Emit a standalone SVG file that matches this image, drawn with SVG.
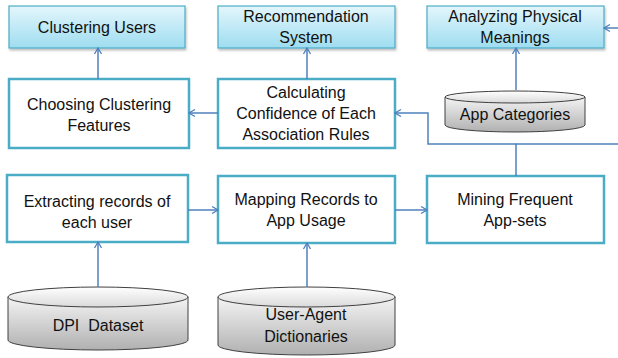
<svg xmlns="http://www.w3.org/2000/svg" width="618" height="358" viewBox="0 0 618 358">
<defs>
<linearGradient id="cyan" x1="0" y1="0" x2="0" y2="1">
<stop offset="0" stop-color="#E4F6FC"/>
<stop offset="1" stop-color="#9EDDF0"/>
</linearGradient>
<linearGradient id="gray" x1="0" y1="0" x2="0" y2="1">
<stop offset="0" stop-color="#F4F4F4"/>
<stop offset="1" stop-color="#B0B0B0"/>
</linearGradient>
<linearGradient id="grayTop" x1="0" y1="0" x2="0" y2="1">
<stop offset="0" stop-color="#FFFFFF"/>
<stop offset="1" stop-color="#DADADA"/>
</linearGradient>
<marker id="arr" markerWidth="10" markerHeight="10" refX="9" refY="5" orient="auto" markerUnits="userSpaceOnUse">
<path d="M3,1.5 L9,5 L3,8.5" fill="none" stroke="#4F81BD" stroke-width="1.3"/>
</marker>
<filter id="sh" x="-10%" y="-10%" width="120%" height="130%">
<feDropShadow dx="1" dy="2" stdDeviation="1.2" flood-color="#000" flood-opacity="0.25"/>
</filter>
</defs>
<style>
.box{fill:#FFFFFF;stroke:#4BACC6;stroke-width:2.5}
.top{fill:url(#cyan);stroke:#4BACC6;stroke-width:1.2}
.cyl{fill:url(#gray);stroke:#404040;stroke-width:1}
.cylTop{fill:url(#grayTop);stroke:#404040;stroke-width:1}
text{font-family:"Liberation Sans",Arial,sans-serif;font-size:16px;fill:#111;text-anchor:middle}
.c{fill:none;stroke:#4F81BD;stroke-width:1.5}
</style>

<g id="clustering-users">
<rect class="top" x="9" y="6" width="176" height="42" filter="url(#sh)"/>
<text x="97" y="33">Clustering Users</text>
</g>
<g id="recommendation-system">
<rect class="top" x="218" y="6" width="177" height="42" filter="url(#sh)"/>
<text x="306" y="22">Recommendation</text>
<text x="306" y="43">System</text>
</g>
<g id="analyzing-physical-meanings">
<rect class="top" x="427" y="6" width="177" height="42" filter="url(#sh)"/>
<text x="515" y="22">Analyzing Physical</text>
<text x="515" y="43">Meanings</text>
</g>
<g id="choosing-clustering-features">
<rect class="box" x="9" y="79" width="180" height="69"/>
<text x="99" y="110">Choosing Clustering</text>
<text x="99" y="131">Features</text>
</g>
<g id="calculating-confidence">
<rect class="box" x="218" y="79" width="177" height="69"/>
<text x="306" y="98">Calculating</text>
<text x="306" y="119">Confidence of Each</text>
<text x="306" y="140">Association Rules</text>
</g>
<g id="app-categories">
<path class="cyl" d="M445,97 L445,125 A70,7 0 0 0 585,125 L585,97 Z"/>
<ellipse class="cylTop" cx="515" cy="97" rx="70" ry="6"/>
<text x="515" y="120">App Categories</text>
</g>
<g id="extracting-records">
<rect class="box" x="7" y="175" width="181" height="67"/>
<text x="97" y="207">Extracting records of</text>
<text x="97" y="228">each user</text>
</g>
<g id="mapping-records">
<rect class="box" x="218" y="176" width="177" height="67"/>
<text x="306" y="205">Mapping Records to</text>
<text x="306" y="226">App Usage</text>
</g>
<g id="mining-frequent-appsets">
<rect class="box" x="427" y="176" width="177" height="67"/>
<text x="515" y="205">Mining Frequent</text>
<text x="515" y="226">App-sets</text>
</g>
<g id="dpi-dataset">
<path class="cyl" d="M8,297 L8,340 A90,10 0 0 0 188,340 L188,297 Z"/>
<ellipse class="cylTop" cx="98" cy="297" rx="90" ry="10"/>
<text x="98" y="331" xml:space="preserve">DPI  Dataset</text>
</g>
<g id="user-agent-dictionaries">
<path class="cyl" d="M218,297 L218,345 A88.5,10 0 0 0 395,345 L395,297 Z"/>
<ellipse class="cylTop" cx="306.5" cy="297" rx="88.5" ry="10"/>
<text x="306" y="320">User-Agent</text>
<text x="306" y="342">Dictionaries</text>
</g>

<g id="connectors">
<line class="c" x1="98" y1="79" x2="98" y2="48" marker-end="url(#arr)"/>
<line class="c" x1="307" y1="79" x2="307" y2="48" marker-end="url(#arr)"/>
<line class="c" x1="516" y1="90" x2="516" y2="48" marker-end="url(#arr)"/>
<line class="c" x1="218" y1="113" x2="189" y2="113" marker-end="url(#arr)"/>
<polyline class="c" points="516,176 516,144 428,144 428,113 395,113" marker-end="url(#arr)"/>
<line class="c" x1="516" y1="144" x2="618" y2="144"/>
<line class="c" x1="618" y1="28" x2="604" y2="28" marker-end="url(#arr)"/>
<line class="c" x1="98" y1="287" x2="98" y2="242" marker-end="url(#arr)"/>
<line class="c" x1="307" y1="287" x2="307" y2="243" marker-end="url(#arr)"/>
<line class="c" x1="188" y1="210" x2="218" y2="210" marker-end="url(#arr)"/>
<line class="c" x1="395" y1="210" x2="427" y2="210" marker-end="url(#arr)"/>
</g>
</svg>
